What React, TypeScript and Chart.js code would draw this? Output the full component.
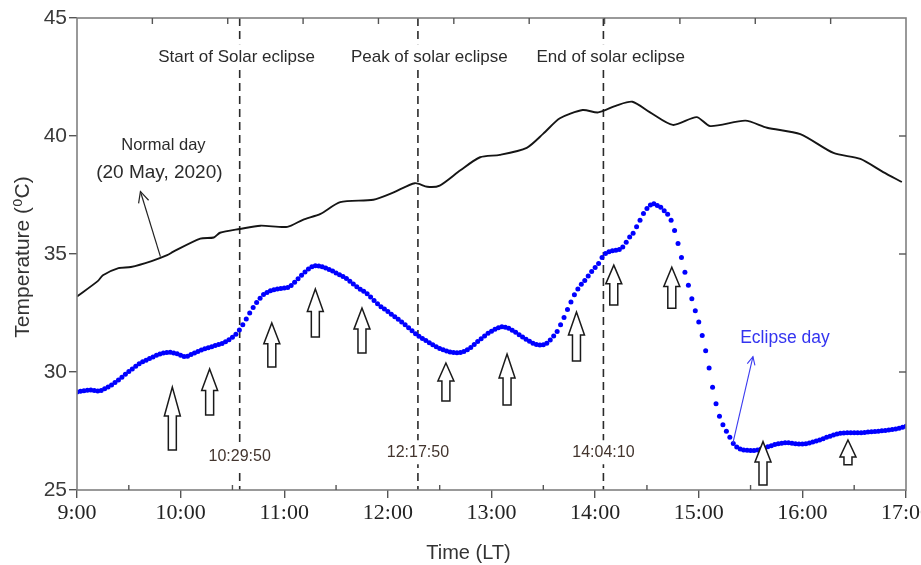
import React, { useEffect, useRef } from 'react';
import { Chart, registerables } from 'chart.js';

Chart.register(...registerables);

// ---------- data ----------
const hourTicks = [9, 10, 11, 12, 13, 14, 15, 16, 17];
const hourLabels = ['9:00', '10:00', '11:00', '12:00', '13:00', '14:00', '15:00', '16:00', '17:00'];
const tempTicks = [25, 30, 35, 40, 45];

// Normal day (20 May 2020): time in decimal hours, temperature in °C
const normalTimes = [
  9.0, 9.2, 9.25, 9.4, 9.52, 9.72, 9.87, 9.93, 10.19, 10.32, 10.38, 10.57, 10.77,
  11.03, 11.18, 11.35, 11.54, 11.86, 12.05, 12.26, 12.38, 12.5, 12.7, 12.89,
  13.08, 13.34, 13.5, 13.66, 13.88, 14.03, 14.21, 14.36, 14.53, 14.75, 14.98,
  15.11, 15.45, 15.66, 15.98, 16.3, 16.56, 16.78, 16.96,
];
const normalTemps = [
  33.2, 33.85, 34.1, 34.4, 34.45, 34.7, 34.95, 35.1, 35.65, 35.7, 35.9, 36.06, 36.2,
  36.15, 36.45, 36.7, 37.2, 37.3, 37.6, 38.0, 37.85, 37.9, 38.55, 39.1,
  39.2, 39.5, 40.1, 40.75, 41.1, 41.0, 41.3, 41.45, 41.0, 40.47, 40.8,
  40.42, 40.65, 40.35, 40.08, 39.28, 39.03, 38.47, 38.05,
];

// Eclipse day: one reading every 2 minutes from 9:00 to 17:00
const eclipseStartHour = 9;
const eclipseStepMinutes = 2;
const eclipseTemps = [
  29.15, 29.18, 29.21, 29.23, 29.24, 29.22, 29.2, 29.22, 29.29, 29.36,
  29.45, 29.55, 29.66, 29.78, 29.9, 30.02, 30.13, 30.24, 30.35, 30.43,
  30.5, 30.57, 30.64, 30.71, 30.76, 30.8, 30.83, 30.84, 30.81, 30.77,
  30.71, 30.66, 30.67, 30.74, 30.81, 30.87, 30.93, 30.98, 31.03, 31.07,
  31.12, 31.17, 31.21, 31.28, 31.37, 31.47, 31.6, 31.78, 32.0, 32.25,
  32.5, 32.73, 32.95, 33.13, 33.28, 33.37, 33.44, 33.49, 33.52, 33.54,
  33.56, 33.58, 33.66, 33.8, 33.95, 34.1, 34.24, 34.36, 34.46, 34.5,
  34.49, 34.46, 34.41, 34.34, 34.28, 34.2, 34.12, 34.05, 33.96, 33.85,
  33.73, 33.61, 33.51, 33.42, 33.32, 33.18, 33.03, 32.89, 32.77, 32.67,
  32.56, 32.45, 32.34, 32.23, 32.12, 32.0, 31.88, 31.75, 31.62, 31.52,
  31.42, 31.33, 31.24, 31.15, 31.07, 31.0, 30.94, 30.89, 30.85, 30.83,
  30.82, 30.83, 30.87, 30.94, 31.04, 31.16, 31.29, 31.41, 31.53, 31.64,
  31.73, 31.81, 31.88, 31.92, 31.9, 31.85, 31.77, 31.68, 31.58, 31.48,
  31.39, 31.3, 31.22, 31.17, 31.14, 31.15, 31.22, 31.36, 31.53, 31.72,
  32.0, 32.31, 32.65, 32.97, 33.27, 33.52, 33.72, 33.88, 34.07, 34.26,
  34.43, 34.6, 34.85, 35.02, 35.1, 35.14, 35.16, 35.19, 35.3, 35.5,
  35.72, 35.88, 36.15, 36.43, 36.72, 36.93, 37.08, 37.13, 37.06, 36.98,
  36.83, 36.68, 36.43, 36.0, 35.45, 34.85, 34.23, 33.68, 33.1, 32.6,
  32.12, 31.55, 30.9, 30.17, 29.35, 28.65, 28.12, 27.76, 27.49, 27.24,
  26.97, 26.82, 26.74, 26.69, 26.68, 26.67, 26.67, 26.7, 26.74, 26.78,
  26.83, 26.88, 26.93, 26.96, 26.98, 27.0, 27.0, 26.98, 26.96, 26.95,
  26.95, 26.96, 26.99, 27.03, 27.08, 27.12, 27.17, 27.23, 27.28, 27.33,
  27.37, 27.4, 27.42, 27.43, 27.43, 27.43, 27.43, 27.43, 27.44, 27.46,
  27.47, 27.48, 27.49, 27.51, 27.52, 27.54, 27.56, 27.59, 27.62, 27.66,
  27.7,
];

// Eclipse events
const eventTimes = [10.57, 12.29, 14.08];
const eventTitles = ['Start of Solar eclipse', 'Peak of solar eclipse', 'End of solar eclipse'];
const eventTitleX = [10.54, 12.4, 14.15];
const eventTitleY = 43.35;
const eventTimeLabels = ['10:29:50', '12:17:50', '14:04:10'];
const eventLabelY = [26.42, 26.6, 26.6];

// Upward block arrows (x in hours, tip and base in °C)
const arrowX = [9.92, 10.28, 10.88, 11.3, 11.75, 12.56, 13.15, 13.82, 14.18, 14.74, 15.62, 16.44];
const arrowTip = [29.36, 30.13, 32.08, 33.52, 32.71, 30.38, 30.76, 32.54, 34.53, 34.44, 27.05, 27.12];
const arrowBase = [26.69, 28.18, 30.21, 31.48, 30.81, 28.77, 28.6, 30.47, 32.84, 32.7, 25.21, 26.07];

// Series annotations
const normalNote = ['Normal day', '(20 May, 2020)'];
const normalNotePos = [[9.834, 39.58], [9.795, 38.43]];
const normalPointer = [[9.805, 34.89], [9.612, 37.65]];
const eclipseNote = 'Eclipse day';
const eclipseNotePos = [15.4, 31.44];
const eclipsePointer = [[15.33, 27.0], [15.523, 30.65]];

const xTitle = 'Time (LT)';
const yTitle = 'Temperature (⁰C)';

// ---------- helpers ----------
const SANS = "'Liberation Sans', Arial, 'DejaVu Sans', sans-serif";
const SERIF = "'Liberation Serif', 'Times New Roman', serif";

function blockArrow(ctx: CanvasRenderingContext2D, x: number, yTip: number, yBase: number) {
  const len = yBase - yTip;
  const head = Math.min(Math.max(len * 0.47, 17), 29);
  const sw = 8;
  const hw = 16;
  ctx.beginPath();
  ctx.moveTo(x, yTip);
  ctx.lineTo(x + hw / 2, yTip + head);
  ctx.lineTo(x + sw / 2, yTip + head);
  ctx.lineTo(x + sw / 2, yBase);
  ctx.lineTo(x - sw / 2, yBase);
  ctx.lineTo(x - sw / 2, yTip + head);
  ctx.lineTo(x - hw / 2, yTip + head);
  ctx.closePath();
  ctx.fillStyle = '#ffffff';
  ctx.fill();
  ctx.strokeStyle = '#1a1a1a';
  ctx.lineWidth = 1.5;
  ctx.stroke();
}

function lineArrow(
  ctx: CanvasRenderingContext2D,
  x1: number, y1: number, x2: number, y2: number,
  color: string, lw: number, headLen: number,
) {
  ctx.strokeStyle = color;
  ctx.lineWidth = lw;
  ctx.beginPath();
  ctx.moveTo(x1, y1);
  ctx.lineTo(x2, y2);
  ctx.stroke();
  const ang = Math.atan2(y2 - y1, x2 - x1);
  const spread = 0.45;
  ctx.beginPath();
  ctx.moveTo(x2 - headLen * Math.cos(ang - spread), y2 - headLen * Math.sin(ang - spread));
  ctx.lineTo(x2, y2);
  ctx.lineTo(x2 - headLen * Math.cos(ang + spread), y2 - headLen * Math.sin(ang + spread));
  ctx.stroke();
}

function boxedText(ctx: CanvasRenderingContext2D, s: string, cx: number, cy: number, size: number, color: string) {
  ctx.font = `${size}px ${SANS}`;
  const w = ctx.measureText(s).width;
  ctx.fillStyle = '#ffffff';
  ctx.fillRect(cx - w / 2 - 2, cy - size * 0.75, w + 4, size * 1.5);
  ctx.fillStyle = color;
  ctx.fillText(s, cx, cy);
}

const annotatePlugin = {
  id: 'annotate',
  beforeDatasetsDraw(chart: any) {
    const { ctx, chartArea: a, scales } = chart;
    const x = scales.x;
    ctx.save();
    ctx.strokeStyle = '#2a2a2a';
    ctx.lineWidth = 1.6;
    ctx.setLineDash([8, 5]);
    eventTimes.forEach((t) => {
      const px = x.getPixelForValue(t);
      ctx.beginPath();
      ctx.moveTo(px, a.top);
      ctx.lineTo(px, a.bottom);
      ctx.stroke();
    });
    ctx.restore();
  },
  afterDatasetsDraw(chart: any) {
    const { ctx, chartArea: a, scales } = chart;
    const x = scales.x;
    const y = scales.y;
    const xTop = scales.xTop;
    ctx.save();

    // event titles and time labels (on white boxes, hiding the dashed lines)
    ctx.textAlign = 'center';
    ctx.textBaseline = 'middle';
    eventTitles.forEach((s, i) => {
      boxedText(ctx, s, x.getPixelForValue(eventTitleX[i]), y.getPixelForValue(eventTitleY), 17, '#2b2b2b');
    });
    eventTimeLabels.forEach((s, i) => {
      boxedText(ctx, s, x.getPixelForValue(eventTimes[i]), y.getPixelForValue(eventLabelY[i]), 16, '#43352e');
    });

    // frame
    ctx.strokeStyle = '#808080';
    ctx.lineWidth = 1.6;
    ctx.strokeRect(a.left, a.top, a.right - a.left, a.bottom - a.top);

    // inward ticks on top axis
    ctx.strokeStyle = '#555';
    ctx.lineWidth = 1.4;
    for (let i = 1; i < 11; i++) {
      const px = xTop.getPixelForValue(i);
      ctx.beginPath();
      ctx.moveTo(px, a.top);
      ctx.lineTo(px, a.top + 6);
      ctx.stroke();
    }
    // inward half-hour ticks on bottom axis
    for (let h = 9.5; h < 17; h += 1) {
      const px = x.getPixelForValue(h);
      ctx.beginPath();
      ctx.moveTo(px, a.bottom);
      ctx.lineTo(px, a.bottom - 5);
      ctx.stroke();
    }
    // inward ticks on right axis
    tempTicks.slice(1, -1).forEach((t) => {
      const py = y.getPixelForValue(t);
      ctx.beginPath();
      ctx.moveTo(a.right, py);
      ctx.lineTo(a.right - 7, py);
      ctx.stroke();
    });

    // block arrows
    arrowX.forEach((h, i) => {
      blockArrow(ctx, x.getPixelForValue(h), y.getPixelForValue(arrowTip[i]), y.getPixelForValue(arrowBase[i]));
    });

    // normal day note
    ctx.textAlign = 'center';
    ctx.fillStyle = '#2b2b2b';
    ctx.font = `16.5px ${SANS}`;
    ctx.fillText(normalNote[0], x.getPixelForValue(normalNotePos[0][0]), y.getPixelForValue(normalNotePos[0][1]));
    ctx.font = `19px ${SANS}`;
    ctx.fillText(normalNote[1], x.getPixelForValue(normalNotePos[1][0]), y.getPixelForValue(normalNotePos[1][1]));
    lineArrow(
      ctx,
      x.getPixelForValue(normalPointer[0][0]), y.getPixelForValue(normalPointer[0][1]),
      x.getPixelForValue(normalPointer[1][0]), y.getPixelForValue(normalPointer[1][1]),
      '#222', 1.2, 12,
    );

    // eclipse day note
    ctx.fillStyle = '#3434f0';
    ctx.font = `17.5px ${SANS}`;
    ctx.textAlign = 'left';
    ctx.fillText(eclipseNote, x.getPixelForValue(eclipseNotePos[0]), y.getPixelForValue(eclipseNotePos[1]));
    lineArrow(
      ctx,
      x.getPixelForValue(eclipsePointer[0][0]), y.getPixelForValue(eclipsePointer[0][1]),
      x.getPixelForValue(eclipsePointer[1][0]), y.getPixelForValue(eclipsePointer[1][1]),
      '#3a3af0', 1.1, 9,
    );

    // axis titles
    ctx.fillStyle = '#333';
    ctx.textAlign = 'center';
    ctx.font = `20px ${SANS}`;
    ctx.fillText(xTitle, (a.left + a.right) / 2 - 23, a.bottom + 63);
    ctx.save();
    ctx.translate(a.left - 54, (a.top + a.bottom) / 2 + 3);
    ctx.rotate(-Math.PI / 2);
    ctx.font = `21px ${SANS}`;
    ctx.fillText(yTitle, 0, 0);
    ctx.restore();

    ctx.restore();
  },
};

export default function App() {
  const canvasRef = useRef<HTMLCanvasElement | null>(null);

  useEffect(() => {
    const canvas = canvasRef.current;
    if (!canvas) return;

    const eclipsePoints = eclipseTemps.map((t, i) => ({
      x: eclipseStartHour + (i * eclipseStepMinutes) / 60,
      y: t,
    }));
    const normalPoints = normalTimes.map((t, i) => ({ x: t, y: normalTemps[i] }));

    const chart = new Chart(canvas, {
      type: 'line',
      data: {
        datasets: [
          {
            label: 'Normal day',
            data: normalPoints,
            borderColor: '#151515',
            borderWidth: 1.9,
            pointRadius: 0,
            tension: 0.25,
            fill: false,
          },
          {
            label: 'Eclipse day',
            data: eclipsePoints,
            showLine: false,
            pointRadius: 2.5,
            pointBorderWidth: 0,
            pointBackgroundColor: '#0000ff',
            borderColor: '#0000ff',
          },
        ],
      },
      options: {
        responsive: false,
        animation: false,
        layout: { padding: { left: 0, right: 15, top: 18, bottom: 0 } },
        plugins: {
          legend: { display: false },
          tooltip: { enabled: false },
          title: { display: false },
        },
        scales: {
          x: {
            type: 'linear',
            position: 'bottom',
            min: 9,
            max: 17,
            afterBuildTicks: (s: any) => {
              s.ticks = hourTicks.map((v) => ({ value: v }));
            },
            ticks: {
              autoSkip: false,
              maxRotation: 0,
              padding: 2,
              color: '#222',
              font: { family: SERIF, size: 22 },
              callback: (v: any) => {
                const i = hourTicks.indexOf(Number(v));
                return i >= 0 ? hourLabels[i] : '';
              },
            },
            grid: { drawOnChartArea: false, tickLength: 8, color: '#555', lineWidth: 1.4 },
            border: { display: false },
            afterFit: (s: any) => {
              s.height = 75;
              s.paddingLeft = 0;
              s.paddingRight = 0;
            },
          },
          xTop: {
            type: 'linear',
            position: 'top',
            min: 0,
            max: 11,
            ticks: { display: false },
            grid: { display: false },
            border: { display: false },
            afterFit: (s: any) => {
              s.height = 0;
              s.paddingLeft = 0;
              s.paddingRight = 0;
            },
          },
          y: {
            type: 'linear',
            position: 'left',
            min: 25,
            max: 45,
            afterBuildTicks: (s: any) => {
              s.ticks = tempTicks.map((v) => ({ value: v }));
            },
            ticks: {
              padding: 2,
              color: '#3a3a3a',
              font: { family: SANS, size: 21 },
            },
            grid: { drawOnChartArea: false, tickLength: 8, color: '#555', lineWidth: 1.4 },
            border: { display: false },
            afterFit: (s: any) => {
              s.width = 77;
              s.paddingTop = 0;
              s.paddingBottom = 0;
            },
          },
        },
      },
      plugins: [annotatePlugin],
    } as any);

    return () => chart.destroy();
  }, []);

  return (
    <div style={{ position: 'absolute', left: 0, top: 0, width: 921, height: 565, background: '#fff' }}>
      <canvas ref={canvasRef} width={921} height={565} style={{ display: 'block' }} />
    </div>
  );
}
